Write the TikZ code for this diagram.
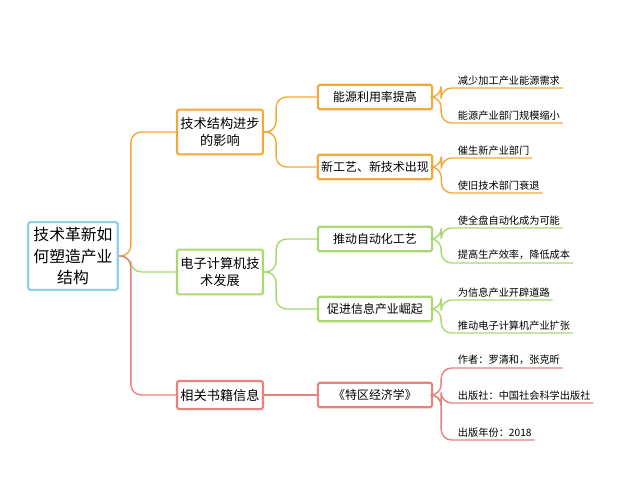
\documentclass[tikz,border=0pt]{standalone}
\usepackage{fontspec}
\setmainfont{Noto Sans CJK SC}
\begin{document}
\begin{tikzpicture}[x=0.02cm,y=-0.02cm,
 box/.style={draw=#1,line width=1.2pt,fill=white,align=center,inner sep=2pt,rounded corners=1pt,font=\fontsize{7.5}{9.5}\selectfont},
 sbox/.style={box=#1,minimum width=65pt,minimum height=14pt,font=\fontsize{6.8}{8}\selectfont},
 leaf/.style={anchor=south west,inner sep=1.5pt,font=\fontsize{5.8}{7}\selectfont},
 con/.style={draw=#1,line width=0.8pt,rounded corners=6pt}]
\useasboundingbox (0,0) rectangle (625,500);
\definecolor{cb}{HTML}{8FCFEA}\definecolor{co}{HTML}{F2A93B}
\definecolor{cg}{HTML}{A8D86E}\definecolor{cr}{HTML}{E9827A}
\node[box=cb,minimum width=51pt,minimum height=38.5pt,font=\fontsize{9}{12}\selectfont] (root) at (73,256) {技术革新如\\何塑造产业\\结构};
\node[box=co,minimum width=48pt,minimum height=25.5pt] (a) at (220,132) {技术结构进步\\的影响};
\node[box=cg,minimum width=48pt,minimum height=25.5pt] (b) at (220,272) {电子计算机技\\术发展};
\node[box=cr,minimum width=48pt,minimum height=16pt] (c) at (220,395) {相关书籍信息};
\node[sbox=co] (a1) at (375,97) {能源利用率提高};
\node[sbox=co] (a2) at (375,167) {新工艺、新技术出现};
\node[sbox=cg] (b1) at (375,239) {推动自动化工艺};
\node[sbox=cg] (b2) at (375,309) {促进信息产业崛起};
\node[sbox=cr] (c1) at (375,395) {《特区经济学》};
\foreach \n/\y/\t in {l1/88/减少加工产业能源需求,l2/123/能源产业部门规模缩小,l3/158/催生新产业部门,l4/193/使旧技术部门衰退,l5/228/使全盘自动化成为可能,l6/263/提高生产效率，降低成本,l7/300/为信息产业开辟道路,l8/333/推动电子计算机产业扩张,l9/368/作者：罗清和，张克昕,l10/403/出版社：中国社会科学出版社,l11/440/出版年份：2018}
  \node[leaf] (\n) at (455,\y) {\t};
\foreach \p/\c/\l in {a/co/a1,a/co/a2,b/cg/b1,b/cg/b2,root/co/a,root/cg/b,root/cr/c}
  \draw[con=\c] (\p.east) -- ++(12,0) |- (\l.west);
\draw[con=cr] (c.east) -- (c1.west);
\foreach \p/\c/\l in {a1/co/l1,a1/co/l2,a2/co/l3,a2/co/l4,b1/cg/l5,b1/cg/l6,b2/cg/l7,b2/cg/l8,c1/cr/l9,c1/cr/l11}{
  \draw[con=\c] (\p.east) -- ++(8,0) |- (\l.south east);}
\draw[con=cr] (c1.east) -- ++(8,0) |- (l10.south east);
\end{tikzpicture}
\end{document}
